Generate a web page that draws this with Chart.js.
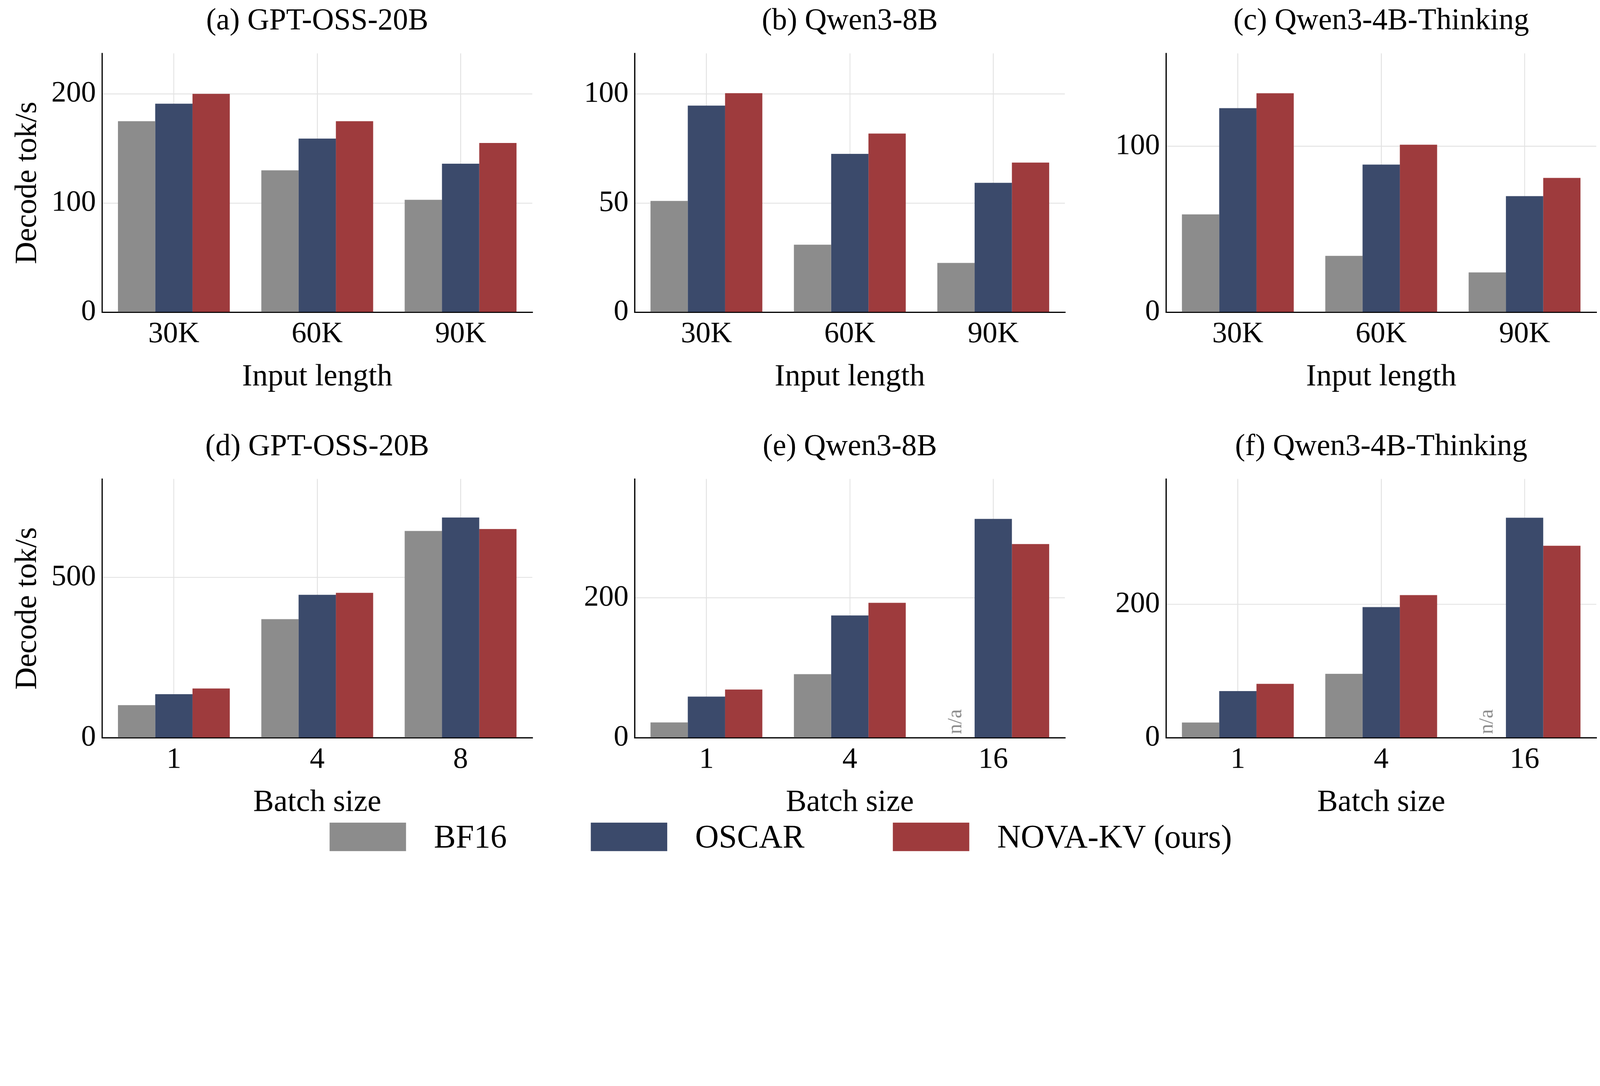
<!DOCTYPE html>
<html lang="en">
<head>
<meta charset="UTF-8">
<title>Decode throughput</title>
<script src="https://cdn.jsdelivr.net/npm/chart.js"></script>
<style>
    html, body { margin: 0; background: #fff; overflow: hidden; }
    #page { width: 5170px; height: 2780px; position: absolute; left: 0; top: 0; transform-origin: 0 0; font-family: "Liberation Serif", serif; }
    canvas { position: absolute; }
    .title { position: absolute; font-size: 98px; text-align: center; color: #000; white-space: nowrap; line-height: 1; }
    .legend { position: absolute; top: 2658px; font-size: 106px; line-height: 92px; display: flex; align-items: center; }
    .sw { display: inline-block; width: 247px; height: 92px; margin-right: 90px; }
</style>
</head>
<body>
<div id="page">
<div class="legend" style="left:1065px"><span class="sw" style="background:#8c8c8c"></span>BF16</div>
<div class="legend" style="left:1909px"><span class="sw" style="background:#3b4a6b"></span>OSCAR</div>
<div class="legend" style="left:2885px"><span class="sw" style="background:#9e3b3d"></span>NOVA-KV (ours)</div>
</div>

<script>
    // data
    const inputLabels = ['30K', '60K', '90K'];
    const batchLabelsA = ['1', '4', '8'];
    const batchLabelsB = ['1', '4', '16'];

    const bf16_a = [175, 130, 103];
    const oscar_a = [191, 159, 136];
    const nova_a = [200, 175, 155];

    const bf16_b = [51, 31, 22.6];
    const oscar_b = [94.7, 72.6, 59.3];
    const nova_b = [100.4, 81.9, 68.6];

    const bf16_c = [59, 34, 24];
    const oscar_c = [123, 89, 70];
    const nova_c = [132, 101, 81];

    const bf16_d = [102, 370, 645];
    const oscar_d = [136, 446, 687];
    const nova_d = [154, 452, 651];

    const bf16_e = [22, 91, null];
    const oscar_e = [59, 175, 313];
    const nova_e = [69, 193, 277];

    const bf16_f = [23, 96, null];
    const oscar_f = [70, 196, 330];
    const nova_f = [81, 214, 288];

    const colors = ['#8c8c8c', '#3b4a6b', '#9e3b3d'];
    const names = ['BF16', 'OSCAR', 'NOVA-KV (ours)'];

    const page = document.getElementById('page');
    page.style.transform = 'scale(' + (window.innerWidth / 5170) + ')';

    const Wy = 300, Hx = 270, padT = 30, padR = 30;
    const plotW = 1390, plotH = 884;

    const panels = [
        { title: '(a) GPT-OSS-20B', labels: inputLabels, data: [bf16_a, oscar_a, nova_a], max: 237, step: 100, x: 330, y: 125, xt: 'Input length', yt: true },
        { title: '(b) Qwen3-8B', labels: inputLabels, data: [bf16_b, oscar_b, nova_b], max: 118.6, step: 50, x: 2051, y: 125, xt: 'Input length' },
        { title: '(c) Qwen3-4B-Thinking', labels: inputLabels, data: [bf16_c, oscar_c, nova_c], max: 156, step: 100, x: 3768, y: 125, xt: 'Input length' },
        { title: '(d) GPT-OSS-20B', labels: batchLabelsA, data: [bf16_d, oscar_d, nova_d], max: 807, step: 500, x: 330, y: 1500, xt: 'Batch size', yt: true },
        { title: '(e) Qwen3-8B', labels: batchLabelsB, data: [bf16_e, oscar_e, nova_e], max: 370, step: 200, x: 2051, y: 1500, xt: 'Batch size', na: true },
        { title: '(f) Qwen3-4B-Thinking', labels: batchLabelsB, data: [bf16_f, oscar_f, nova_f], max: 388, step: 200, x: 3768, y: 1500, xt: 'Batch size', na: true }
    ];

    // writes "n/a" where BF16 has no bar
    const naPlugin = {
        id: 'naLabel',
        afterDatasetsDraw(chart, args, opts) {
            if (!opts.show) return;
            const ctx = chart.ctx;
            const xs = chart.scales.x, ys = chart.scales.y;
            const w = chart.getDatasetMeta(1).data[2].width;
            const px = xs.getPixelForValue(2) - w;
            ctx.save();
            ctx.translate(px, ys.getPixelForValue(0) - 12);
            ctx.rotate(-Math.PI / 2);
            ctx.fillStyle = '#8c8c8c';
            ctx.font = '66px "Liberation Serif"';
            ctx.textAlign = 'left';
            ctx.textBaseline = 'middle';
            ctx.fillText('n/a', 0, 0);
            ctx.restore();
        }
    };

    panels.forEach(p => {
        const t = document.createElement('div');
        t.className = 'title';
        t.textContent = p.title;
        t.style.left = p.x + 'px';
        t.style.width = plotW + 'px';
        t.style.top = (p.y - 112) + 'px';
        page.appendChild(t);

        const c = document.createElement('canvas');
        const W = Wy + plotW + padR, H = padT + plotH + Hx;
        c.style.left = (p.x - Wy) + 'px';
        c.style.top = (p.y - padT) + 'px';
        c.style.width = W + 'px';
        c.style.height = H + 'px';
        c.width = W; c.height = H;
        page.appendChild(c);

        new Chart(c.getContext('2d'), {
            type: 'bar',
            data: {
                labels: p.labels,
                datasets: p.data.map((d, i) => ({
                    label: names[i], data: d, backgroundColor: colors[i],
                    categoryPercentage: 0.78, barPercentage: 1.0
                }))
            },
            options: {
                responsive: false, animation: false, devicePixelRatio: 1,
                layout: { padding: { top: padT, right: padR, left: 0, bottom: 0 } },
                plugins: { legend: { display: false }, tooltip: { enabled: false }, naLabel: { show: !!p.na } },
                scales: {
                    x: {
                        grid: { color: '#e3e3e3', lineWidth: 3, drawTicks: false, offset: false },
                        border: { color: '#000', width: 4 },
                        ticks: { color: '#000', font: { family: 'Liberation Serif', size: 96 }, padding: 14 },
                        title: { display: true, text: p.xt, color: '#000', font: { family: 'Liberation Serif', size: 100 }, padding: 0 },
                        afterFit(s) { s.height = Hx; }
                    },
                    y: {
                        min: 0, max: p.max,
                        grid: { color: '#e3e3e3', lineWidth: 3, drawTicks: false },
                        border: { color: '#000', width: 4 },
                        ticks: { color: '#000', font: { family: 'Liberation Serif', size: 96 }, padding: 20 },
                        title: { display: !!p.yt, text: 'Decode tok/s', color: '#000', font: { family: 'Liberation Serif', size: 100 }, padding: 0 },
                        afterBuildTicks(s) {
                            const ticks = [];
                            for (let v = 0; v <= p.max; v += p.step) ticks.push({ value: v });
                            s.ticks = ticks;
                        },
                        afterFit(s) { s.width = Wy; }
                    }
                }
            },
            plugins: [naPlugin]
        });
    });
</script>
</body>
</html>
